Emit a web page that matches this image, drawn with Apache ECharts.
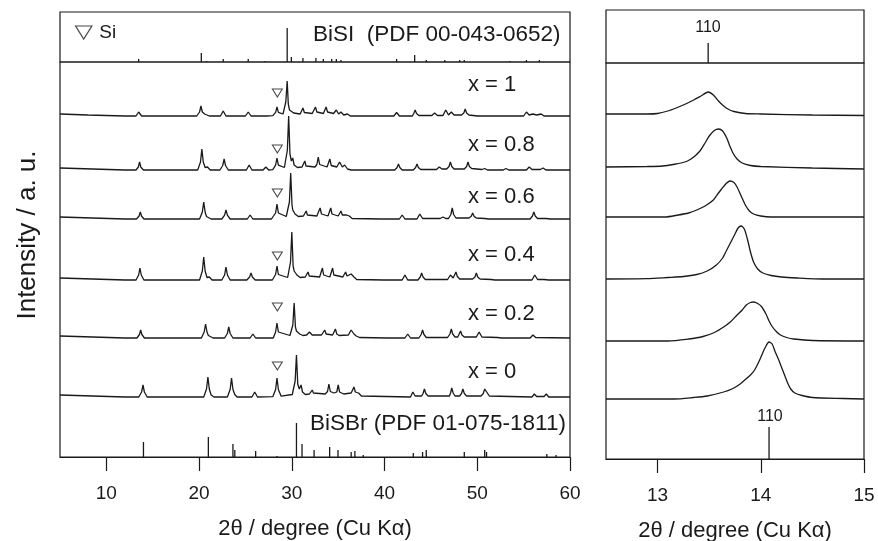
<!DOCTYPE html>
<html><head><meta charset="utf-8">
<script src="https://cdn.jsdelivr.net/npm/echarts@6/dist/echarts.min.js"></script>
<style>html,body{margin:0;padding:0;background:#fff}#c{width:878px;height:541px}</style>
</head><body><div id="c"></div>
<script>
// ---------- DATA ----------
const samples = ['x = 1', 'x = 0.8', 'x = 0.6', 'x = 0.4', 'x = 0.2', 'x = 0'];
// vertical offsets of each trace (a.u.) in the left and right panels
const leftOffsets  = [341, 287, 238, 177, 119, 60];
const rightOffsets = [345, 292, 242, 180, 118, 60];
// Si marker heights above each baseline (a.u.)
const siPos = 28.44;
const siMarkH = [23, 21, 26, 24, 31, 31];

// Left traces: flat [2θ, intensity] pairs
const trace_x1 = [5,2, 8,1, 12,0, 13.2,0, 13.48,4, 13.8,0, 17.3,0, 17.5,1, 17.7,0, 19.75,0, 20.05,4, 20.2,10, 20.35,4, 20.6,2, 20.8,3, 21.1,0, 22.3,0, 22.6,5, 22.9,0, 25.0,0, 25.3,4, 25.6,0, 26.9,0, 27.1,1.5, 27.3,0, 27.95,0.3, 28.25,3.6, 28.4,9, 28.55,3.6, 29.05,2, 29.35,14, 29.5,35, 29.62,12, 29.75,6, 29.95,7, 30.2,3, 30.9,2, 31.05,3.5, 31.2,8, 31.35,3.5, 32.2,2.5, 32.4,4, 32.55,9, 32.7,4, 33.4,2.5, 33.55,4, 33.7,9, 33.85,4, 34.5,2.5, 34.8,6, 35.05,2, 35.3,4, 35.6,1, 36.0,2, 36.3,0, 39.3,0, 39.5,1, 39.7,0, 41.0,0, 41.3,3.5, 41.6,0, 43.0,0, 43.15,2.5, 43.3,6, 43.45,2.5, 43.7,0.5, 45.1,0.5, 45.4,3, 45.7,0.5, 46.3,0.5, 46.6,6, 46.9,1, 47.2,4, 47.5,1, 48.3,1, 48.55,3, 48.7,7, 48.85,3, 49.1,1, 50.0,0, 50.2,1, 50.4,0, 55.0,0, 55.3,4, 55.6,1, 56.0,2, 56.4,1, 56.9,2, 57.2,0, 60,0];
const trace_x08 = [5,2, 12,0, 13.2,0, 13.45,3, 13.58,8, 13.71,3, 14.0,0, 17.3,0, 17.5,1, 17.7,0, 19.85,0, 20.15,8, 20.3,21, 20.45,8, 20.65,2.5, 20.9,3, 21.2,0, 22.25,0, 22.55,4.5, 22.7,11, 22.85,4.5, 23.15,0, 25.1,0, 25.4,5, 25.7,0, 26.9,0, 27.2,3, 27.5,0, 27.95,0.3, 28.25,4.8, 28.4,12, 28.55,4.8, 29.2,2.5, 29.52,20, 29.66,54, 29.8,16, 29.95,9, 30.1,12, 30.25,5, 30.6,2.5, 31.1,3, 31.27,4, 31.4,9, 31.53,4, 32.5,3, 32.7,5.5, 32.85,13, 33.0,5.5, 33.8,3, 33.97,4.5, 34.1,11, 34.25,4.5, 34.85,3, 35.15,8, 35.45,3, 35.7,5, 36.0,1, 36.4,0, 39.3,0, 39.5,1.5, 39.7,0, 41.1,0, 41.35,2.5, 41.5,6, 41.65,2.5, 41.9,0, 43.1,0, 43.35,2.5, 43.5,6, 43.65,2.5, 43.9,0.5, 45.6,0.5, 45.9,3, 46.2,1, 46.7,1, 46.95,3.5, 47.1,8, 47.25,3.5, 47.5,1, 48.6,1, 48.85,3.5, 49.0,8, 49.15,3.5, 49.4,1.5, 50.5,0.5, 50.8,1.5, 51.1,0, 52.8,0, 53.1,1.5, 53.4,0, 55.3,0, 55.6,3, 55.9,0.5, 56.8,0.5, 57.1,2, 57.4,0, 59.4,0, 59.6,1, 60,0];
const trace_x06 = [5,2, 12,0, 13.25,0, 13.53,3, 13.66,7, 13.79,3, 14.05,0, 17.4,0, 17.6,1, 17.8,0, 20.05,0, 20.35,7, 20.5,17, 20.65,7, 20.8,2.5, 21.0,3, 21.3,0, 22.45,0, 22.75,3.8, 22.9,9, 23.05,3.8, 23.35,0, 25.2,0, 25.5,4, 25.8,0, 27.4,0, 27.6,2, 27.8,0, 27.95,0.3, 28.25,6, 28.4,15, 28.55,6, 29.4,2.5, 29.74,17, 29.88,46, 30.02,14, 30.1,9, 30.2,10, 30.35,5, 30.7,2.5, 31.25,3, 31.42,4, 31.55,8, 31.68,4, 32.7,3, 32.9,5, 33.05,11, 33.2,5, 33.9,3, 34.07,5, 34.2,11, 34.33,5, 35.0,3, 35.15,4, 35.3,8, 35.45,4, 35.6,3, 35.9,4, 36.2,3, 36.5,0.5, 39.7,0, 39.9,1.5, 40.1,0, 41.6,0, 41.9,4, 42.2,0, 43.5,0, 43.8,5, 44.1,0.5, 46.0,0.5, 46.3,2, 46.6,0.5, 46.9,0.5, 47.15,4.5, 47.3,11, 47.45,4.5, 47.7,1, 49.1,1, 49.35,2.8, 49.5,6, 49.65,2.8, 49.9,1, 50.8,0.5, 51.0,1, 51.2,0, 53.1,0, 53.3,1, 53.5,0, 55.7,0, 55.95,3, 56.1,7, 56.25,3, 56.5,0.5, 57.4,0.5, 57.6,2, 57.9,0, 60,0];
const trace_x04 = [5,2, 12,0, 13.2,0, 13.48,5, 13.62,12, 13.76,5, 14.05,0, 17.5,0, 17.7,1, 17.9,0, 20.05,0, 20.35,9, 20.5,23, 20.65,9, 20.85,2.5, 21.1,3, 21.4,0, 22.45,0, 22.75,5, 22.9,13, 23.05,5, 23.35,0, 25.15,0, 25.45,3, 25.6,7, 25.75,3, 26.05,0, 27.5,0, 27.7,2, 27.9,0, 27.95,0.3, 28.25,5.5, 28.4,14, 28.55,5.5, 29.55,2.5, 29.86,18, 30.0,48, 30.14,14, 30.25,9, 30.4,10, 30.55,5, 30.9,2.5, 31.45,3, 31.62,4, 31.75,8, 31.88,4, 33.0,3, 33.17,5, 33.3,12, 33.43,5, 34.1,3, 34.27,5, 34.4,12, 34.53,5, 35.5,3, 35.65,4, 35.8,8, 35.95,4, 36.1,4, 36.4,6, 36.7,3, 37.0,0.5, 39.9,0, 40.1,1, 40.3,0, 41.9,0, 42.2,5, 42.5,0, 43.6,0, 43.85,3, 44.0,7, 44.15,3, 44.4,0.5, 46.8,0.5, 47.1,5, 47.4,2, 47.55,3.5, 47.7,8, 47.85,3.5, 48.1,1, 49.5,1, 49.75,3, 49.9,7, 50.05,3, 50.3,1, 51.5,0.5, 51.7,1, 51.9,0, 55.9,0, 56.2,5, 56.5,0.5, 57.2,0.5, 57.4,2, 57.7,0, 60,0];
const trace_x02 = [5,2, 12,0, 13.3,0, 13.57,3.5, 13.7,8, 13.83,3.5, 14.1,0, 17.6,0, 17.8,1, 18.0,0, 20.25,0, 20.55,6, 20.7,14, 20.85,6, 21.0,2.5, 21.2,3, 21.5,0, 22.75,0, 23.05,4.5, 23.2,11, 23.35,4.5, 23.65,0, 25.5,0, 25.8,4, 26.1,0, 27.6,0, 27.8,2, 28.0,0, 28.1,0.3, 28.25,6, 28.4,15, 28.55,6, 29.8,2.5, 30.11,13, 30.25,35, 30.39,11, 30.5,7, 30.7,8, 30.85,4, 31.2,2.5, 31.6,3, 31.9,6, 32.2,3, 33.2,3, 33.4,4, 33.55,8, 33.7,4, 34.4,3, 34.55,4, 34.7,9, 34.85,4, 35.1,2.5, 36.1,3, 36.25,4.5, 36.4,8, 36.55,7, 36.7,4, 36.95,2, 37.3,0.5, 40.3,0, 40.5,1, 40.7,0, 42.2,0, 42.5,4, 42.8,0, 43.7,0, 43.95,3.5, 44.1,8, 44.25,3.5, 44.5,0.5, 46.8,0.5, 47.05,4, 47.2,9, 47.35,4, 47.6,1, 47.9,1, 48.05,3, 48.2,7, 48.35,3, 48.6,1, 49.9,1, 50.2,6, 50.5,1, 52.2,0.5, 52.4,1, 52.6,0, 55.7,0, 56.0,3, 56.3,0.5, 60,0];
const trace_x0 = [5,2, 12,0, 13.5,0, 13.8,5, 13.95,12, 14.1,5, 14.4,0, 17.7,0, 17.9,1, 18.1,0, 20.5,0, 20.8,8, 20.95,20, 21.1,8, 21.3,2, 21.6,0, 23.05,0, 23.35,7.5, 23.5,19, 23.65,7.5, 23.85,2.5, 24.1,0, 25.7,0, 26.0,5, 26.3,0, 27.95,0.3, 28.25,7.5, 28.4,19, 28.55,7.5, 28.85,0.8, 30.05,2.5, 30.36,16, 30.5,42, 30.64,13, 30.8,8, 31.0,12, 31.15,5, 31.45,2.5, 31.9,3, 32.07,4, 32.2,7, 32.33,4, 33.6,3, 33.85,5.5, 34.0,13, 34.15,5.5, 34.55,4, 34.85,5, 35.0,12, 35.15,5, 35.6,3, 36.4,4, 36.55,5, 36.7,10, 36.85,5, 37.2,4, 37.5,1, 42.8,0, 43.05,5, 43.3,1, 44.0,1, 44.15,3.5, 44.3,8, 44.45,3.5, 44.7,1, 47.0,1, 47.12,4, 47.25,9, 47.4,4, 47.6,1, 48.1,1, 48.3,3.5, 48.45,8, 48.6,3.5, 48.85,1, 50.4,1, 50.65,3.5, 50.8,8, 50.9,6, 51.0,6, 51.3,1, 55.9,0, 56.15,3, 56.4,0.5, 57.2,0.5, 57.45,3, 57.7,0, 60,0];

// Right traces (110 reflection)
const zoom_x1  = [12.5,0, 12.9,0, 13.0,0.5, 13.1,3, 13.18,6, 13.26,9.5, 13.35,14, 13.42,18, 13.49,22, 13.54,19, 13.59,13, 13.64,8, 13.69,4.5, 13.74,2.5, 13.85,0.5, 14.0,0, 14.5,-1, 15,-1.5];
const zoom_x08 = [12.5,0, 12.9,0.5, 13.05,1, 13.15,2.5, 13.28,5.5, 13.35,10, 13.41,16, 13.46,24, 13.5,31, 13.55,36.5, 13.59,38, 13.63,36, 13.67,29, 13.7,21, 13.73,14, 13.77,8, 13.82,4, 13.9,1.5, 14.0,0.5, 14.5,-1, 15,-2];
const zoom_x06 = [12.5,0, 13.07,0, 13.2,2, 13.3,4, 13.38,7, 13.46,11, 13.54,17, 13.59,24, 13.62,28, 13.66,33, 13.70,36, 13.74,34.5, 13.77,30, 13.81,21, 13.85,12, 13.89,6, 13.93,3, 14.0,1, 14.1,0, 15,0];
const zoom_x04 = [12.5,0, 12.9,0.3, 13.1,1.5, 13.25,2.5, 13.38,4.5, 13.48,8, 13.57,14, 13.63,21, 13.67,29, 13.71,37, 13.75,45, 13.78,51, 13.81,53, 13.84,50, 13.87,40, 13.9,27, 13.93,17, 13.97,10, 14.02,6, 14.1,3.5, 14.2,2, 14.35,1, 14.6,0, 15,0];
const zoom_x02 = [12.5,0, 13.1,0, 13.3,2, 13.44,4.5, 13.55,8.5, 13.64,14, 13.71,19.5, 13.77,26, 13.82,31, 13.86,36, 13.9,38.5, 13.93,39, 13.97,37.5, 14.01,34, 14.05,27, 14.08,20, 14.11,14.5, 14.15,9.5, 14.19,6, 14.25,3.5, 14.32,2, 14.5,0.5, 15,0];
const zoom_x0  = [12.5,0, 13.16,0, 13.35,1.5, 13.48,3, 13.64,7, 13.73,10.5, 13.8,15, 13.85,19.5, 13.9,24, 13.94,29, 13.98,37, 14.01,44, 14.04,51, 14.08,57, 14.11,55, 14.14,47, 14.17,40, 14.2,32, 14.23,24, 14.26,16, 14.29,10, 14.33,6, 14.4,3.5, 14.5,1.5, 14.8,0.5, 15,0];

// Reference patterns: [2θ, relative height]
const bisiSticks = [13.48,3, 20.24,9, 20.8,1, 22.6,3, 25.3,3, 27.1,1, 29.5,34, 29.95,5, 31.2,4, 32.6,4, 33.4,3, 34.3,3, 34.8,3, 35.3,2, 41.3,3, 43.25,7, 44.5,2, 46.5,2, 48.1,2, 48.6,2, 53.5,1, 55.3,2, 56.7,2];
const bisbrSticks = [14.0,15, 21.0,20, 23.65,13, 23.85,7, 26.1,6, 28.4,1, 30.5,34, 31.1,13, 32.4,7, 34.08,10, 34.98,7, 36.4,5, 36.8,6, 37.7,2, 43.1,4, 44.1,5, 44.5,7, 48.6,5, 50.8,7, 51.0,5, 57.5,3, 58.5,2];
const bisi110 = [13.49, 20];
const bisbr110 = [14.08, 32];

const leftTicks = [10, 20, 30, 40, 50, 60];
const rightTicks = [13, 14, 15];

// ---------- BUILD ----------
function pairs(flat, off) { const r = []; for (let i = 0; i < flat.length; i += 2) r.push([flat[i], flat[i + 1] + (off || 0)]); return r; }
const leftTraces = [trace_x1, trace_x08, trace_x06, trace_x04, trace_x02, trace_x0];
const rightTraces = [zoom_x1, zoom_x08, zoom_x06, zoom_x04, zoom_x02, zoom_x0];
const FONT = 'Liberation Sans, Arial, Helvetica, sans-serif';
const INK = '#1a1a1a';

const hiddenAxis = (gi, min, max) => ({ gridIndex: gi, type: 'value', min, max, show: false });
const mainX = (gi, min, max, ticks) => ({
  gridIndex: gi, type: 'value', min, max,
  name: '2θ / degree (Cu Kα)', nameLocation: 'middle', nameGap: 61,
  nameTextStyle: { fontFamily: FONT, fontSize: 22, color: INK },
  axisLine: { show: true, lineStyle: { color: INK, width: 1.2 } },
  axisTick: { show: true, inside: false, length: 14, lineStyle: { color: INK, width: 1.2 }, customValues: ticks },
  axisLabel: { show: true, margin: 27, fontFamily: FONT, fontSize: 19, color: INK, customValues: ticks },
  splitLine: { show: false }
});

const series = [];
leftTraces.forEach((t, i) => series.push({
  type: 'line', xAxisIndex: 1, yAxisIndex: 1, data: pairs(t, leftOffsets[i]), showSymbol: false,
  lineStyle: { color: INK, width: 1.3 }, silent: true
}));
rightTraces.forEach((t, i) => series.push({
  type: 'line', xAxisIndex: 3, yAxisIndex: 3, data: pairs(t, rightOffsets[i]), showSymbol: false,
  smooth: 0.25, lineStyle: { color: INK, width: 1.3 }, silent: true
}));
series.push({ type: 'bar', xAxisIndex: 0, yAxisIndex: 0, data: pairs(bisiSticks), barWidth: 1.3, itemStyle: { color: INK } });
series.push({ type: 'bar', xAxisIndex: 1, yAxisIndex: 1, data: pairs(bisbrSticks), barWidth: 1.3, itemStyle: { color: INK } });
series.push({ type: 'bar', xAxisIndex: 2, yAxisIndex: 2, data: [bisi110], barWidth: 1.3, itemStyle: { color: INK } });
series.push({ type: 'bar', xAxisIndex: 3, yAxisIndex: 3, data: [bisbr110], barWidth: 1.3, itemStyle: { color: INK } });
const TRI = 'path://M0,0L10,0L5,8Z';
series.push({
  name: 'Si', type: 'scatter', xAxisIndex: 1, yAxisIndex: 1, symbol: TRI, symbolSize: [10, 8],
  data: leftOffsets.map((o, i) => [siPos, o + siMarkH[i]]),
  itemStyle: { color: '#fff', borderColor: INK, borderWidth: 1 }, silent: true
});

const labelTexts = [];
const labelY = [86, 146, 198, 256, 315, 373];
samples.forEach((s, i) => labelTexts.push({ type: 'text', left: 468, top: labelY[i] - 12, style: { text: s, font: '22px ' + FONT, fill: INK } }));

const G = { show: true, borderColor: INK, borderWidth: 1.2, containLabel: false, outerBoundsMode: 'none' };
const option = {
  animation: false,
  backgroundColor: '#fff',
  grid: [
    Object.assign({ left: 60, top: 12, width: 510, height: 50 }, G),
    Object.assign({ left: 60, top: 62, width: 510, height: 395 }, G),
    Object.assign({ left: 606, top: 10, width: 258, height: 53 }, G),
    Object.assign({ left: 606, top: 63, width: 258, height: 396 }, G)
  ],
  xAxis: [hiddenAxis(0, 5, 60), mainX(1, 5, 60, leftTicks), hiddenAxis(2, 12.5, 15), mainX(3, 12.5, 15, rightTicks)],
  yAxis: [hiddenAxis(0, 0, 50), hiddenAxis(1, 0, 395), hiddenAxis(2, 0, 53), hiddenAxis(3, 0, 396)],
  legend: {
    data: [{ name: 'Si', icon: TRI }], left: 70, top: 18, itemWidth: 17, itemHeight: 13, itemGap: 5,
    itemStyle: { color: '#fff', borderColor: INK, borderWidth: 1.2 },
    textStyle: { fontFamily: FONT, fontSize: 19, color: INK, padding: [0, 0, 0, 2] }, selectedMode: false
  },
  graphic: [
    { type: 'text', left: 313, top: 23, style: { text: 'BiSI  (PDF 00-043-0652)', font: '22.5px ' + FONT, fill: INK } },
    { type: 'text', left: 310, top: 412, style: { text: 'BiSBr (PDF 01-075-1811)', font: '22.5px ' + FONT, fill: INK } },
    { type: 'text', x: 708, y: 28, style: { text: '110', font: '16px ' + FONT, fill: INK, align: 'center', verticalAlign: 'middle' } },
    { type: 'text', x: 770, y: 417, style: { text: '110', font: '16px ' + FONT, fill: INK, align: 'center', verticalAlign: 'middle' } },
    { type: 'text', x: 28, y: 235, rotation: Math.PI / 2, style: { text: 'Intensity / a. u.', font: '26px ' + FONT, fill: INK, align: 'center', verticalAlign: 'middle' } }
  ].concat(labelTexts),
  series
};
const chart = echarts.init(document.getElementById('c'), null, { renderer: 'canvas' });
chart.setOption(option);
</script></body></html>
